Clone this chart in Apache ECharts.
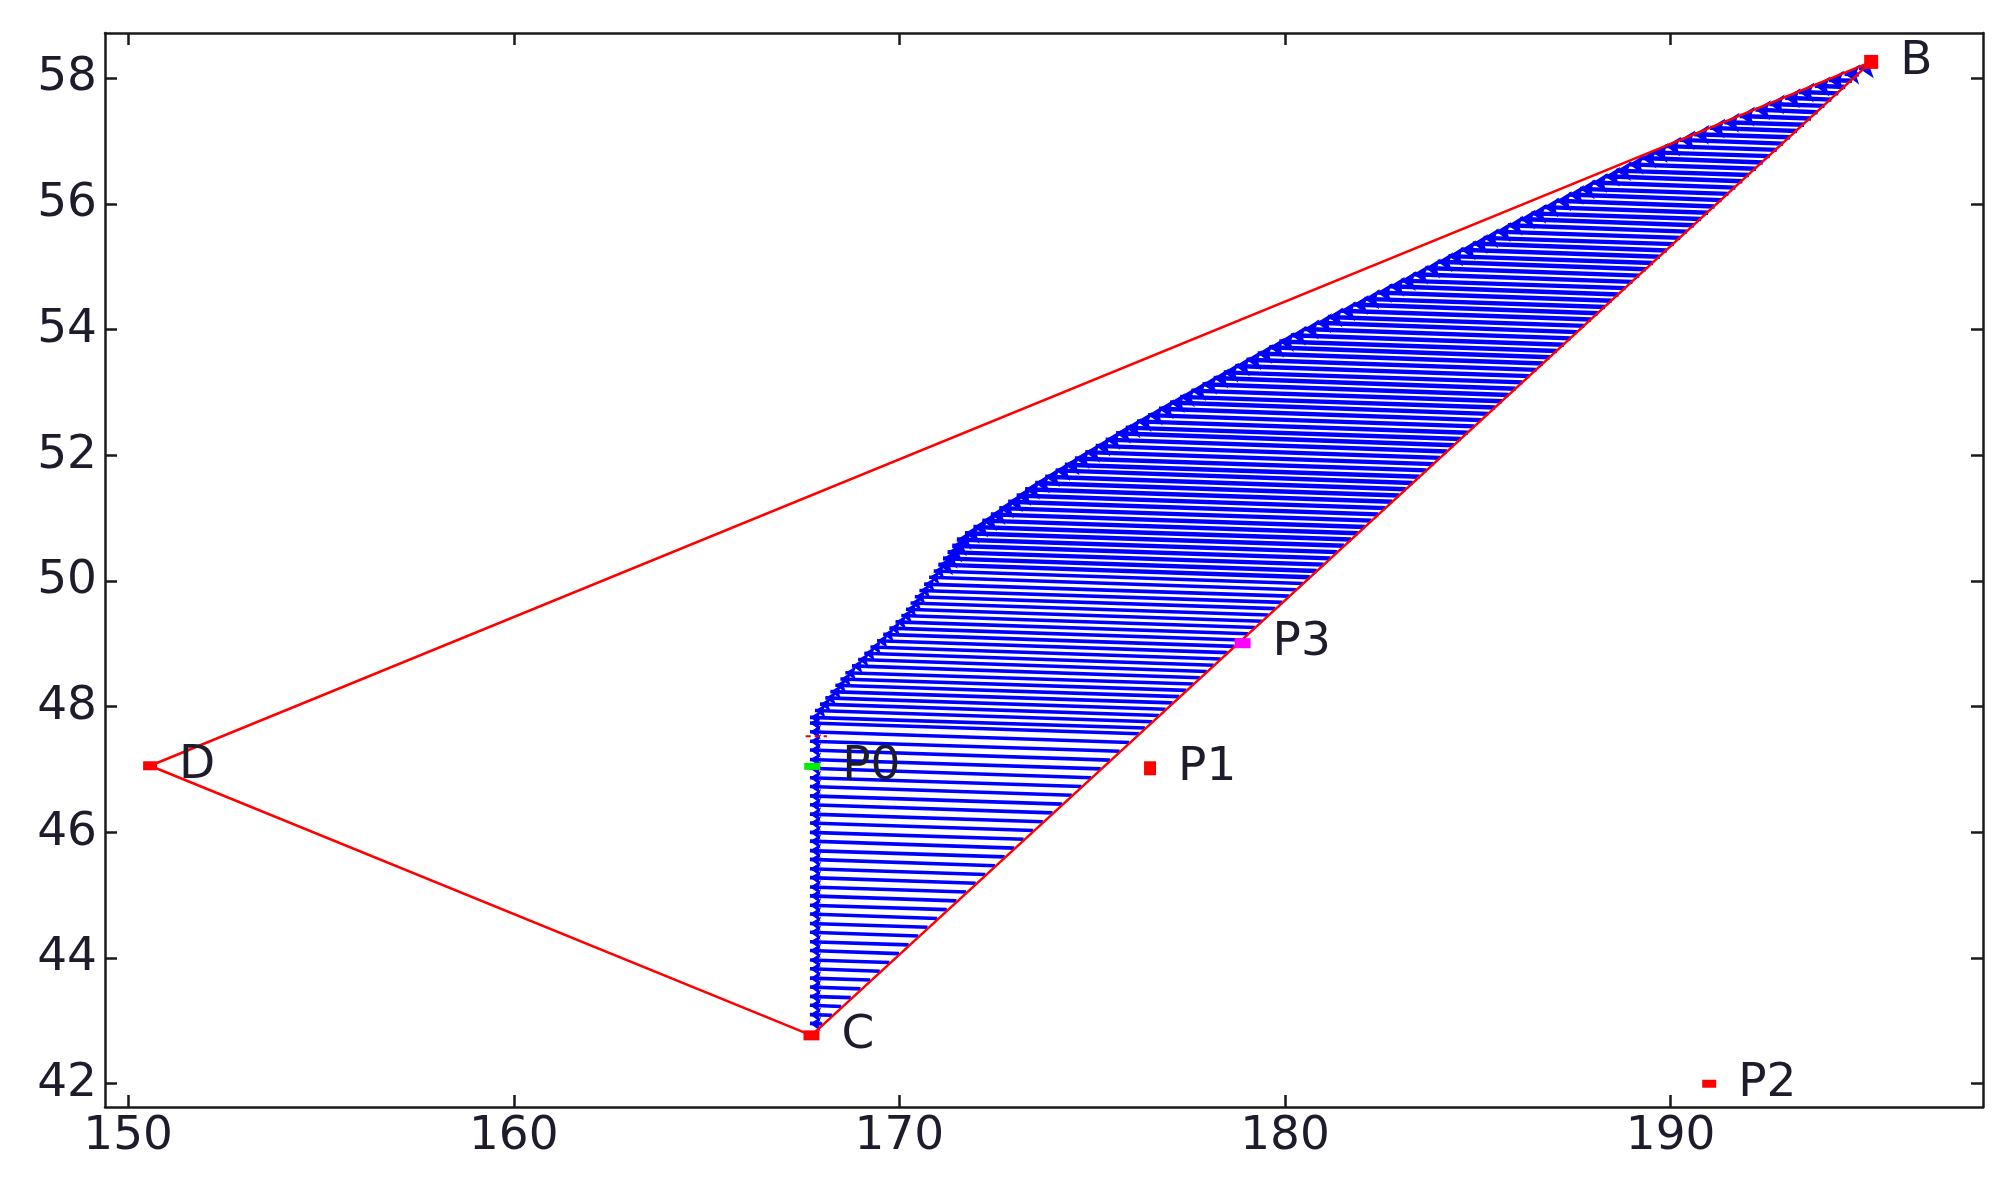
<!DOCTYPE html>
<html>
<head>
<meta charset="utf-8">
<script src="https://cdn.jsdelivr.net/npm/echarts@6/dist/echarts.min.js"></script>
<style>
  html, body { margin: 0; padding: 0; background: #fff; }
  #chart { width: 2016px; height: 1179px; }
</style>
</head>
<body>
<div id="chart"></div>
<script>
// axis ranges and ticks
const xMin = 149.4, xMax = 198.1
const yMin = 41.63, yMax = 58.72
const xTicks = [150, 160, 170, 180, 190]
const yTicks = [42, 44, 46, 48, 50, 52, 54, 56, 58]

// triangle D -> B -> C -> D
const triX = [150.57, 195.2, 167.72, 150.57]
const triY = [47.06, 58.26, 42.77, 47.06]

// vertex markers
const vertexNames = ['B', 'C', 'D']
const vertexX = [195.2, 167.72, 150.57]
const vertexY = [58.26, 42.77, 47.06]

// extra points
const pointNames = ['P0', 'P1', 'P2', 'P3']
const pointX = [167.74, 176.5, 191.0, 178.9]
const pointY = [47.05, 47.02, 42.0, 49.01]

// small red dash above P0
const dashX = [167.57, 168.12]
const dashY = [47.53, 47.53]

// arrow tails (on C-B) and heads
const tails = [
  [168.00,42.95],[168.25,43.09],[168.49,43.23],[168.74,43.37],[168.99,43.51],[169.24,43.65],[169.49,43.79],[169.74,43.93],[169.99,44.07],[170.24,44.21],
  [170.49,44.35],[170.73,44.49],[170.98,44.63],[171.23,44.77],[171.48,44.91],[171.73,45.05],[171.98,45.19],[172.23,45.33],[172.48,45.47],[172.73,45.61],
  [172.98,45.75],[173.22,45.89],[173.47,46.03],[173.72,46.17],[173.97,46.31],[174.22,46.45],[174.47,46.59],[174.72,46.73],[174.97,46.87],[175.22,47.01],
  [175.46,47.15],[175.71,47.29],[175.96,47.43],[176.21,47.57],
  [176.37,47.66],[176.55,47.76],[176.73,47.86],[176.90,47.96],[177.08,48.06],[177.26,48.16],[177.44,48.26],[177.62,48.36],[177.79,48.46],[177.97,48.56],
  [178.15,48.66],[178.33,48.76],[178.51,48.86],[178.68,48.96],[178.86,49.06],[179.04,49.16],[179.22,49.26],[179.40,49.36],[179.57,49.46],[179.75,49.56],
  [179.93,49.66],[180.11,49.76],[180.29,49.86],[180.46,49.96],[180.64,50.06],[180.82,50.16],[181.00,50.26],[181.18,50.36],[181.35,50.46],[181.53,50.56],
  [181.71,50.66],[181.89,50.76],[182.07,50.86],[182.24,50.96],[182.42,51.06],[182.60,51.16],[182.78,51.26],[182.96,51.36],[183.13,51.46],[183.31,51.56],
  [183.49,51.66],[183.67,51.76],[183.85,51.86],[184.02,51.96],[184.20,52.06],[184.38,52.16],[184.56,52.26],[184.74,52.36],[184.91,52.46],[185.09,52.56],
  [185.27,52.66],[185.45,52.76],[185.63,52.86],[185.80,52.96],[185.98,53.06],[186.16,53.16],[186.34,53.26],[186.52,53.36],[186.69,53.46],[186.87,53.56],
  [187.05,53.66],[187.23,53.76],[187.41,53.86],[187.58,53.96],[187.76,54.06],[187.94,54.16],[188.12,54.26],[188.30,54.36],[188.47,54.46],[188.65,54.56],
  [188.83,54.66],[189.01,54.76],[189.19,54.86],[189.36,54.96],[189.54,55.06],[189.72,55.16],[189.90,55.26],[190.08,55.36],[190.25,55.46],[190.43,55.56],
  [190.61,55.66],[190.79,55.76],[190.97,55.86],[191.14,55.96],[191.32,56.06],[191.50,56.16],[191.68,56.26],[191.86,56.36],[192.03,56.46],[192.21,56.56],
  [192.39,56.66],[192.57,56.76],[192.75,56.86],[192.92,56.96],[193.10,57.06],[193.28,57.16],[193.46,57.26],[193.64,57.36],[193.81,57.46],[193.99,57.56],
  [194.17,57.66],[194.35,57.76],[194.53,57.86],[194.70,57.96],[194.88,58.06],[195.06,58.16]
]
const heads = [
  [167.68,42.96],[167.68,43.10],[167.68,43.25],[167.68,43.39],[167.68,43.54],[167.68,43.68],[167.68,43.83],[167.68,43.97],[167.68,44.12],[167.68,44.26],
  [167.68,44.41],[167.68,44.55],[167.68,44.70],[167.68,44.84],[167.68,44.99],[167.68,45.13],[167.68,45.28],[167.68,45.42],[167.68,45.57],[167.68,45.71],
  [167.68,45.86],[167.68,46.00],[167.68,46.15],[167.68,46.29],[167.68,46.44],[167.68,46.58],[167.68,46.73],[167.68,46.87],[167.68,47.02],[167.68,47.16],
  [167.68,47.31],[167.68,47.45],[167.68,47.60],[167.68,47.74],
  [167.68,47.83],[167.81,47.94],[167.94,48.04],[168.08,48.14],[168.21,48.24],[168.34,48.34],[168.47,48.44],[168.60,48.54],[168.77,48.65],[168.93,48.75],
  [169.09,48.85],[169.25,48.95],[169.42,49.05],[169.58,49.15],[169.74,49.25],[169.90,49.35],[170.05,49.45],[170.17,49.55],[170.29,49.65],[170.40,49.75],
  [170.52,49.85],[170.64,49.95],[170.77,50.06],[170.89,50.16],[171.01,50.26],[171.13,50.36],[171.25,50.46],[171.37,50.56],[171.49,50.66],[171.70,50.76],
  [171.92,50.86],[172.15,50.96],[172.37,51.06],[172.59,51.16],[172.82,51.26],[173.04,51.36],[173.26,51.46],[173.52,51.56],[173.78,51.66],[174.05,51.76],
  [174.29,51.85],[174.55,51.95],[174.82,52.05],[175.09,52.15],[175.35,52.25],[175.62,52.35],[175.87,52.44],[176.16,52.54],[176.45,52.64],[176.73,52.74],
  [177.02,52.84],[177.28,52.93],[177.57,53.03],[177.86,53.13],[178.15,53.23],[178.41,53.32],[178.71,53.42],[179.00,53.52],[179.29,53.62],[179.59,53.72],
  [179.85,53.81],[180.16,53.91],[180.49,54.01],[180.82,54.11],[181.11,54.20],[181.44,54.30],[181.77,54.40],[182.06,54.49],[182.39,54.59],[182.71,54.69],
  [183.01,54.78],[183.33,54.88],[183.64,54.98],[183.96,55.08],[184.24,55.17],[184.56,55.27],[184.87,55.37],[185.15,55.46],[185.47,55.56],[185.78,55.66],
  [186.10,55.76],[186.39,55.85],[186.71,55.95],[187.04,56.05],[187.36,56.15],[187.65,56.24],[187.97,56.34],[188.30,56.44],[188.59,56.53],[188.92,56.63],
  [189.25,56.73],[189.54,56.82],[189.87,56.92],[190.24,57.02],[190.61,57.11],[191.02,57.21],[191.39,57.30],[191.79,57.40],[192.20,57.50],[192.56,57.59],
  [192.97,57.69],[193.33,57.78],[193.74,57.88],[194.10,57.97],[194.51,58.07],[194.88,58.16]
]

const FONT = 'DejaVu Sans'
const TEXT = '#1c1c2a'
const AXIS = '#1a1a1a'
const SPLIT = 58 // 前 58 根箭头较稀，之后较密

const chart = echarts.init(document.getElementById('chart'))

// 坐标轴（四边都有框，刻度朝内）
const makeX = (pos, showLabel) => ({
  type: 'value',
  position: pos,
  min: xMin,
  max: xMax,
  splitLine: { show: false },
  axisLine: { show: true, onZero: false, lineStyle: { color: AXIS, width: 2.5 } },
  axisTick: { show: true, inside: true, length: 12, customValues: xTicks, lineStyle: { color: AXIS, width: 2.5 } },
  axisLabel: {
    show: showLabel, customValues: xTicks, margin: 6,
    fontFamily: FONT, fontSize: 47, color: TEXT
  }
})
const makeY = (pos, showLabel) => ({
  type: 'value',
  position: pos,
  min: yMin,
  max: yMax,
  splitLine: { show: false },
  axisLine: { show: true, onZero: false, lineStyle: { color: AXIS, width: 2.5 } },
  axisTick: { show: true, inside: true, length: 12, customValues: yTicks, lineStyle: { color: AXIS, width: 2.5 } },
  axisLabel: {
    show: showLabel, customValues: yTicks, margin: 8,
    fontFamily: FONT, fontSize: 47, color: TEXT
  }
})

const labelStyle = {
  show: true,
  position: 'right',
  distance: 22,
  fontFamily: FONT,
  fontSize: 47,
  color: TEXT
}

const vertexSizes = [[14, 14], [16, 10], [14, 9]]
const pointColors = ['#00ee00', '#ff0000', '#ff0000', '#ff00ff']
const pointSizes = [[16, 7], [12, 14], [14, 8], [16, 10]]

const arrowData = (from, to) =>
  tails.slice(from, to).map((t, i) => ({ coords: [t, heads[from + i]] }))

const option = {
  animation: false,
  backgroundColor: '#fff',
  grid: { left: 105, right: 33, top: 33, bottom: 72, containLabel: false },
  xAxis: [makeX('bottom', true), makeX('top', false)],
  yAxis: [makeY('left', true), makeY('right', false)],
  series: [
    {
      // 蓝色箭头（下半部分）
      name: 'arrowsLow',
      type: 'lines',
      coordinateSystem: 'cartesian2d',
      silent: true,
      symbol: ['none', 'arrow'],
      symbolSize: 11,
      lineStyle: { color: '#0000ff', width: 3.6, opacity: 1, curveness: 0 },
      data: arrowData(0, SPLIT),
      z: 2
    },
    {
      // 蓝色箭头（上半部分）
      name: 'arrowsHigh',
      type: 'lines',
      coordinateSystem: 'cartesian2d',
      silent: true,
      symbol: ['none', 'arrow'],
      symbolSize: 15,
      lineStyle: { color: '#0000ff', width: 4.4, opacity: 1, curveness: 0 },
      data: arrowData(SPLIT, tails.length),
      z: 2
    },
    {
      // 红色三角形
      name: 'triangle',
      type: 'line',
      showSymbol: false,
      silent: true,
      lineStyle: { color: '#ff0000', width: 2.5 },
      data: triX.map((x, i) => [x, triY[i]]),
      z: 3
    },
    {
      name: 'dash',
      type: 'line',
      showSymbol: false,
      silent: true,
      lineStyle: { color: '#e00000', width: 2, type: [5, 4] },
      data: dashX.map((x, i) => [x, dashY[i]]),
      z: 3
    },
    {
      name: 'vertices',
      type: 'scatter',
      symbol: 'rect',
      data: vertexX.map((x, i) => ({
        value: [x, vertexY[i]],
        symbolSize: vertexSizes[i]
      })),
      itemStyle: { color: '#ff0000', opacity: 1 },
      label: { ...labelStyle, formatter: p => vertexNames[p.dataIndex] },
      z: 4
    },
    {
      name: 'points',
      type: 'scatter',
      symbol: 'rect',
      data: pointX.map((x, i) => ({
        value: [x, pointY[i]],
        symbolSize: pointSizes[i],
        itemStyle: { color: pointColors[i], opacity: 1 }
      })),
      label: { ...labelStyle, formatter: p => pointNames[p.dataIndex] },
      z: 4
    }
  ]
}

chart.setOption(option)
</script>
</body>
</html>
